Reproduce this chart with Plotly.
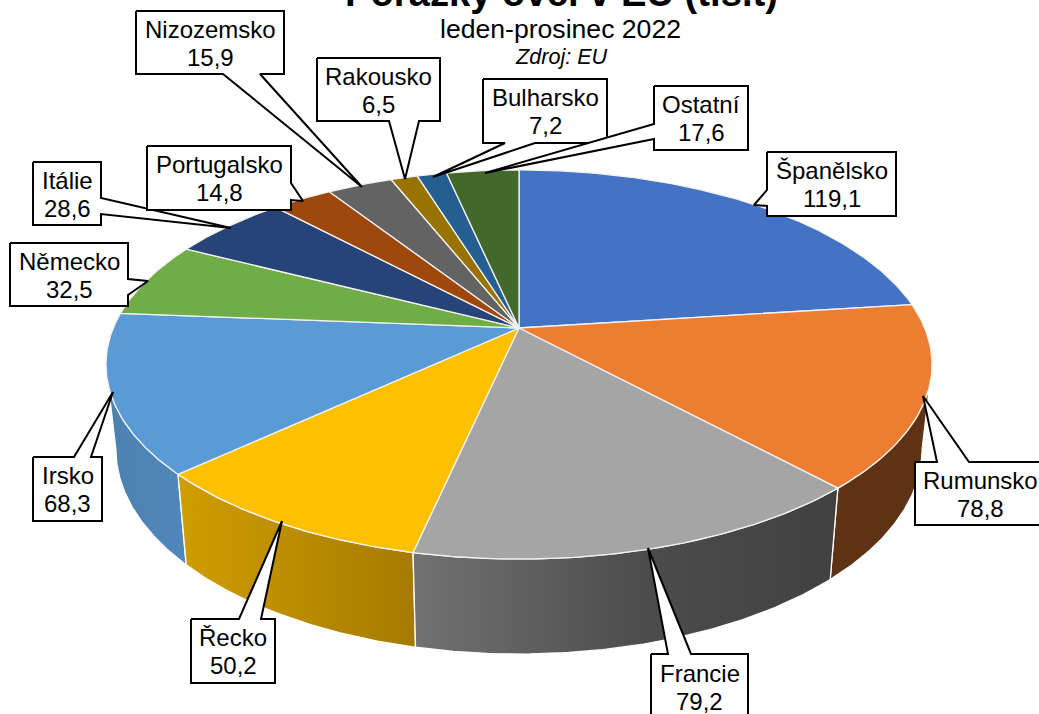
import math
import plotly.graph_objects as go

# ---- data ----
countries = ["Španělsko", "Rumunsko", "Francie", "Řecko", "Irsko", "Německo",
             "Itálie", "Portugalsko", "Nizozemsko", "Rakousko", "Bulharsko", "Ostatní"]
values = [119.1, 78.8, 79.2, 50.2, 68.3, 32.5, 28.6, 14.8, 15.9, 6.5, 7.2, 17.6]
title_text = "Porážky ovcí v EU (tis.t)"
subtitle_text = "leden-prosinec 2022"
source_text = "Zdroj: EU"

# ---- styles ----
top_colors = ["#4472C4", "#ED7D31", "#A5A5A5", "#FFC000", "#5B9BD5", "#70AD47",
              "#264478", "#9E480E", "#636363", "#997300", "#255E91", "#43682B"]
wall_styles = {
    1: [[0, "#5E3214"], [1, "#5E3214"]],
    2: [[0, "#727272"], [0.55, "#4C4C4C"], [1, "#414141"]],
    3: [[0, "#CF9E00"], [1, "#A67A00"]],
    4: [[0, "#4C80AE"], [1, "#5088BC"]],
}
FONT = "Liberation Sans, Arial, sans-serif"

# ---- projection of the pie disc ----
CX, CY = 519.0, 328.0
K = 0.1876
SX, SY = 405.7, 187.7
WALL_S, WALL_DY, WALL_SY = 0.976, 83.0, 1.052
# the wall is seen between the two angles where the rim turns back
VISIBLE_FROM = math.degrees(math.acos(-K))
VISIBLE_TO = 360 - VISIBLE_FROM


def top_pt(deg):
    t = math.radians(deg)
    u, v = math.sin(t), -math.cos(t)
    d = 1 - K * v
    return CX + SX * u / d, CY + SY * v / d


def low_pt(deg):
    x, y = top_pt(deg)
    return CX + WALL_S * (x - CX), CY + WALL_DY + WALL_SY * (y - CY)


def arc(fn, a0, a1):
    n = max(2, int(abs(a1 - a0) * 2))
    return [fn(a0 + (a1 - a0) * i / n) for i in range(n + 1)]


total = sum(values)
edges = [0.0]
for val in values:
    edges.append(edges[-1] + val / total * 360)

fig = go.Figure()

# walls
for i in [1, 4, 3, 2]:
    a0, a1 = max(edges[i], VISIBLE_FROM), min(edges[i + 1], VISIBLE_TO)
    pts = arc(top_pt, a0, a1) + arc(low_pt, a1, a0)
    pts.append(pts[0])
    xs = [p[0] for p in pts]
    fig.add_trace(go.Scatter(
        x=xs, y=[p[1] for p in pts], mode="lines", fill="toself",
        line=dict(color="white", width=1.3),
        fillgradient=dict(type="horizontal", colorscale=wall_styles[i],
                          start=min(xs), stop=max(xs)),
        hoverinfo="skip", showlegend=False))

# top faces
for i, name in enumerate(countries):
    pts = [(CX, CY)] + arc(top_pt, edges[i], edges[i + 1]) + [(CX, CY)]
    fig.add_trace(go.Scatter(
        x=[p[0] for p in pts], y=[p[1] for p in pts], mode="lines", fill="toself",
        fillcolor=top_colors[i], line=dict(color="#F2F2F2", width=1.3),
        name=name, hoverinfo="skip", showlegend=False))

# ---- callouts: box (x0, x1, y0, y1), side carrying the pointer, base a, base b, tip ----
callouts = {
    "Španělsko":   ((767, 896, 152, 216), "l", 190, 206, (754, 205)),
    "Rumunsko":    ((915, 1046, 462, 525), "t", 937, 969, (923, 396)),
    "Francie":     ((651, 748, 654, 719), "t", 668, 691, (648, 548)),
    "Řecko":       ((191, 275, 619, 683), "t", 239, 261, (282, 521)),
    "Irsko":       ((33, 102, 457, 521), "t", 74, 91, (113, 392)),
    "Německo":     ((10, 128, 243, 306), "r", 279, 295, (148, 281)),
    "Itálie":      ((33, 101, 162, 225), "r", 198, 214, (231, 228)),
    "Portugalsko": ((147, 291, 146, 210), "r", 183, 200, (303, 201)),
    "Nizozemsko":  ((136, 284, 11, 74), "b", 223, 260, (362, 187)),
    "Rakousko":    ((317, 440, 58, 121), "b", 389, 419, (405, 179)),
    "Bulharsko":   ((483, 607, 79, 143), "b", 505, 535, (433, 177)),
    "Ostatní":     ((654, 748, 86, 150), "l", 124, 139, (485, 173)),
}


def callout_path(box, side, a, b, tip):
    x0, x1, y0, y1 = box
    p = [(x0, y0)]
    if side == "t":
        p += [(a, y0), tip, (b, y0)]
    p.append((x1, y0))
    if side == "r":
        p += [(x1, a), tip, (x1, b)]
    p.append((x1, y1))
    if side == "b":
        p += [(b, y1), tip, (a, y1)]
    p.append((x0, y1))
    if side == "l":
        p += [(x0, b), tip, (x0, a)]
    p.append((x0, y0))
    return p


annotations = []
for name, val in zip(countries, values):
    box, side, a, b, tip = callouts[name]
    pts = callout_path(box, side, a, b, tip)
    fig.add_trace(go.Scatter(
        x=[p[0] for p in pts], y=[p[1] for p in pts], mode="lines", fill="toself",
        fillcolor="white", line=dict(color="black", width=2),
        hoverinfo="skip", showlegend=False))
    cx = (box[0] + box[1]) / 2
    cy = (box[2] + box[3]) / 2
    for text, off in ((name, -13.5), (f"{val:.1f}".replace(".", ","), 14.5)):
        annotations.append(dict(x=cx, y=cy + off, xref="x", yref="y", text=text,
                                showarrow=False, xanchor="center", yanchor="middle",
                                font=dict(family=FONT, size=24, color="black")))

# ---- titles ----
annotations += [
    dict(x=561, y=16, xref="x", yref="y", text=f"<b>{title_text}</b>", showarrow=False,
         xanchor="center", yanchor="bottom", font=dict(family=FONT, size=38.2, color="black")),
    dict(x=560.5, y=29, xref="x", yref="y", text=subtitle_text, showarrow=False,
         xanchor="center", yanchor="middle", font=dict(family=FONT, size=26.6, color="black")),
    dict(x=561, y=56, xref="x", yref="y", text=f"<i>{source_text}</i>", showarrow=False,
         xanchor="center", yanchor="middle", font=dict(family=FONT, size=21.6, color="black")),
]

axis = dict(visible=False, showgrid=False, zeroline=False, fixedrange=True)
fig.update_layout(
    width=1039, height=714, autosize=False,
    margin=dict(l=0, r=0, t=0, b=0, pad=0),
    paper_bgcolor="white", plot_bgcolor="white", showlegend=False,
    xaxis=dict(range=[0, 1039], **axis),
    yaxis=dict(range=[714, 0], **axis),
    annotations=annotations,
)
fig.write_html("out.html", config={"displayModeBar": False},
               default_width="1039px", default_height="714px",
               post_script="document.body.style.margin='0';document.body.style.overflow='hidden';")
